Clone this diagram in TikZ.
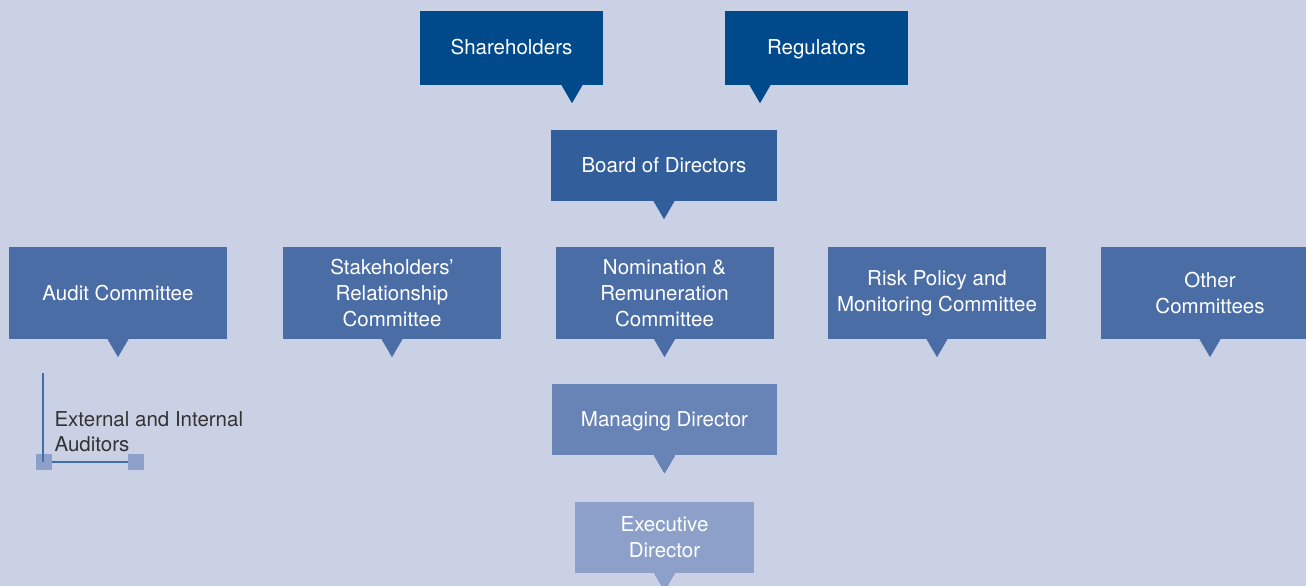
\documentclass[tikz,border=0pt]{standalone}
\usepackage{fontspec}
\setmainfont{TeX Gyre Heros}
\usetikzlibrary{calc}
\definecolor{bgblue}{HTML}{CBD1E5}
\definecolor{topblue}{HTML}{004A8C}
\definecolor{boardblue}{HTML}{325F9B}
\definecolor{commblue}{HTML}{4A6DA6}
\definecolor{mdblue}{HTML}{6883B5}
\definecolor{edblue}{HTML}{8CA0C9}
\definecolor{lineblue}{HTML}{3F6FA8}
\definecolor{textgray}{HTML}{333333}
% pointer under a box: node, x offset from its centre, colour
\newcommand{\tip}[3]{\fill[#3] ($(#1.south)+(#2-10.5,0)$) -- ($(#1.south)+(#2+10.5,0)$) -- ($(#1.south)+(#2,18)$) -- cycle;}

\begin{document}
\begin{tikzpicture}[x=1pt, y=-1pt]
\tikzstyle{block} = [ rectangle, inner sep=0pt, text=white, align=center, font=\fontsize{20.5}{26}\selectfont ]
\tikzstyle{oneline} = [ text height=16.5pt, text depth=2.5pt ]
\tikzstyle{owner} = [ block, oneline, fill=topblue, minimum width=183pt, minimum height=74pt ]
\tikzstyle{board} = [ block, oneline, fill=boardblue, minimum width=226pt, minimum height=71pt ]
\tikzstyle{committee} = [ block, fill=commblue, minimum width=218pt, minimum height=92pt ]
\tikzstyle{mdbox} = [ block, oneline, fill=mdblue, minimum width=225pt, minimum height=71pt ]
\tikzstyle{edbox} = [ block, fill=edblue, minimum width=179pt, minimum height=71pt ]
\tikzstyle{marker} = [ rectangle, fill=edblue, minimum size=16pt, inner sep=0pt ]
\fill[bgblue] (0,0) rectangle (1306,586);
\useasboundingbox (0,0) rectangle (1306,586);
% place nodes
\node [owner] (shareholders) at (511.5,48) {Shareholders} ;
\node [owner] (regulators) at (816.5,48) {Regulators} ;
\node [board] (board) at (664,165.5) {Board of Directors} ;
\node [committee] (audit) at (118,293) {Audit Committee} ;
\node [committee] (stakeholders) at (392,293) {Stakeholders'\\Relationship\\Committee} ;
\node [committee] (nomination) at (664.5,293) {Nomination \&\\Remuneration\\Committee} ;
\node [committee] (risk) at (937,293) {Risk Policy and\\Monitoring Committee} ;
\node [committee] (other) at (1210,293) {Other\\Committees} ;
\node [mdbox] (md) at (664.5,419.5) {Managing Director} ;
\node [edbox] (ed) at (664.5,537) {Executive\\Director} ;
\node [anchor=west, align=left, text=textgray, font=\fontsize{20.5}{25}\selectfont] (auditors) at (51,432) {External and Internal\\Auditors} ;
\node [marker] (mark-1) at (44,462) {} ;
\node [marker] (mark-2) at (136,462) {} ;
\coordinate (bracket-top) at (43,373) ;

% draw pointers
\tip{shareholders}{60.5}{topblue}
\tip{regulators}{-56.5}{topblue}
\tip{board}{0}{boardblue}
\foreach \c in {audit, stakeholders, nomination, risk, other}
  \tip{\c}{0}{commblue}
\tip{md}{0}{mdblue}
\tip{ed}{0}{edblue}
\draw [lineblue, line width=1.2pt] (bracket-top) -- (bracket-top |- mark-1.center) ;
\draw [lineblue, line width=1.2pt] (mark-1) -- (mark-2) ;
\end{tikzpicture}
\end{document}
